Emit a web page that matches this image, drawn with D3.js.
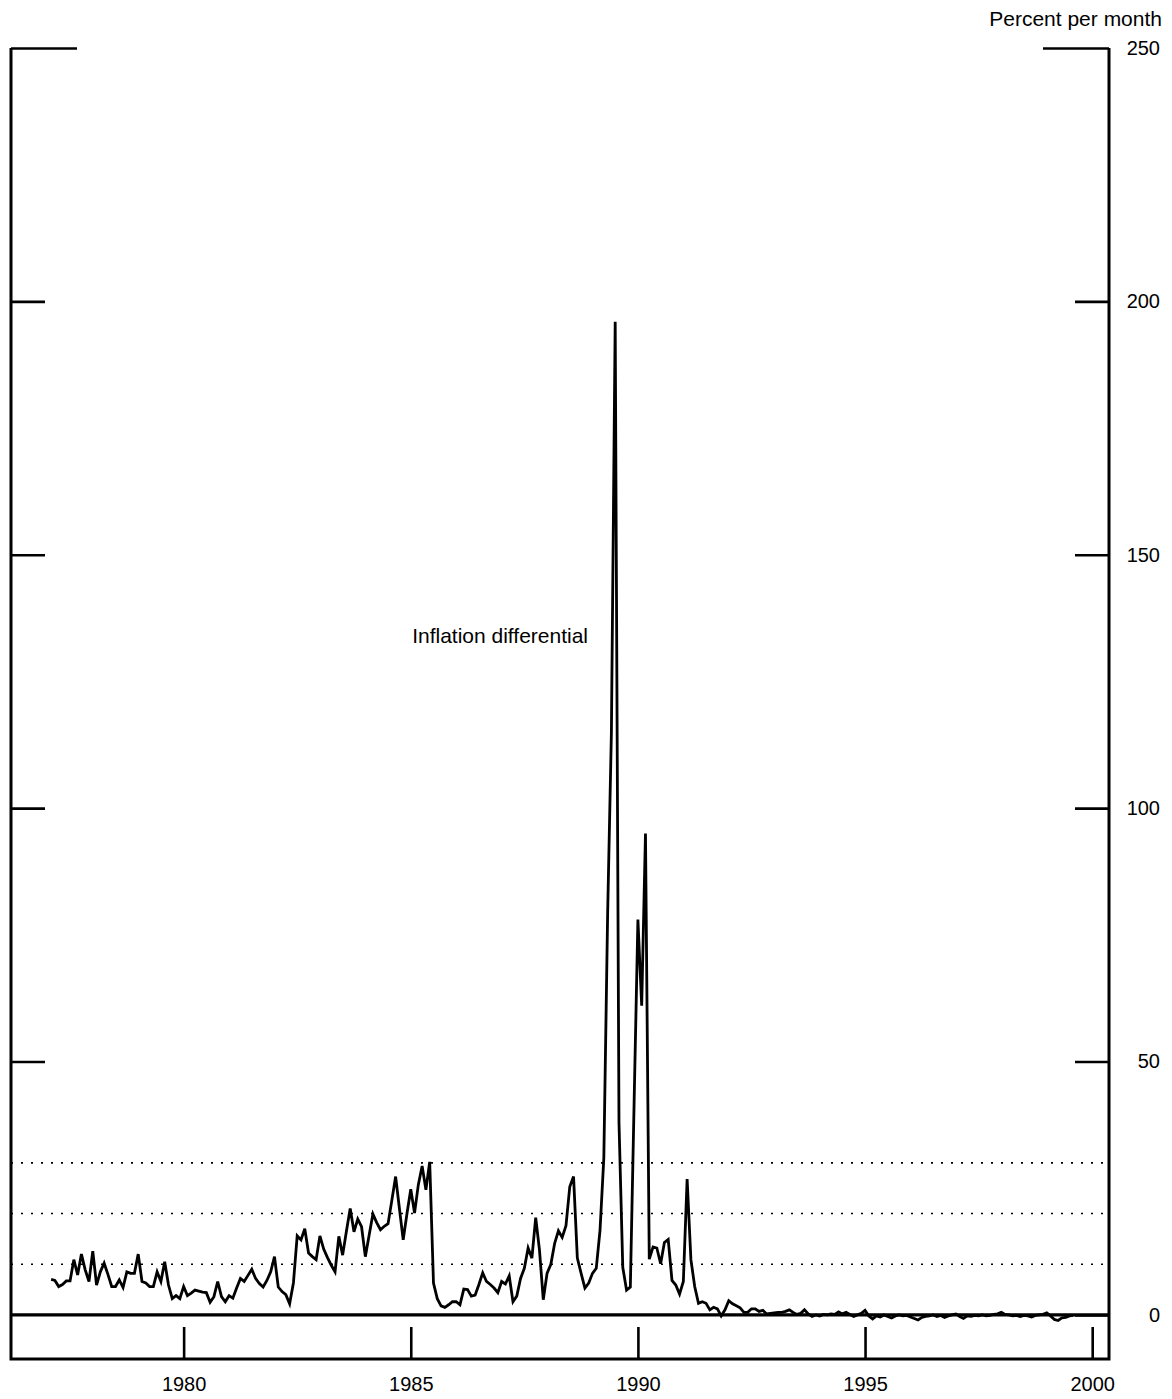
<!DOCTYPE html>
<html>
<head>
<meta charset="utf-8">
<script src="https://cdn.jsdelivr.net/npm/d3@7"></script>
<style>
    body { margin: 0; background: #fff; }
    svg text { font-family: "Liberation Sans", Arial, sans-serif; fill: #000; }
</style>
</head>
<body>
<div id="chart-container"></div>
<script>
// monthly inflation differential, percent per month (series starts Feb 1977)
const START_YEAR = 1977;
const START_MONTH = 1; // 0-based, Feb

const diff1977 = [7.0, 6.8, 5.6, 6.0, 6.7, 6.7, 10.9, 7.9, 12.0, 8.9, 6.6];
const diff1978 = [12.6, 5.9, 8.5, 10.2, 8.0, 5.6, 5.6, 6.9, 5.4, 8.5, 8.2, 8.2];
const diff1979 = [12.0, 6.6, 6.3, 5.6, 5.6, 8.5, 6.6, 10.5, 5.9, 3.2, 3.8, 3.2];
const diff1980 = [5.6, 3.8, 4.3, 4.9, 4.7, 4.5, 4.4, 2.5, 3.6, 6.6, 3.6, 2.6];
const diff1981 = [3.8, 3.3, 5.3, 7.2, 6.6, 7.8, 9.0, 7.2, 6.2, 5.5, 6.8, 8.5];
const diff1982 = [11.5, 5.5, 4.6, 4.0, 2.2, 6.3, 15.6, 14.8, 17.0, 12.2, 11.5, 10.9];
const diff1983 = [15.6, 13.0, 11.3, 9.8, 8.5, 15.5, 11.8, 16.5, 21.0, 16.4, 18.9, 17.4];
const diff1984 = [11.5, 15.7, 19.9, 18.2, 16.8, 17.5, 18.0, 22.6, 27.3, 21.0, 14.8, 20.0];
const diff1985 = [24.8, 20.1, 25.7, 29.4, 24.7, 30.2, 6.3, 3.2, 1.8, 1.5, 2.0, 2.6];
const diff1986 = [2.6, 2.0, 5.1, 5.0, 3.7, 3.9, 6.0, 8.3, 6.6, 6.0, 5.3, 4.4];
const diff1987 = [6.6, 6.1, 7.7, 2.6, 3.7, 7.2, 9.2, 13.2, 11.2, 19.2, 12.8, 3.0];
const diff1988 = [8.2, 10.0, 14.1, 16.6, 15.3, 17.6, 25.3, 27.3, 11.2, 8.2, 5.3, 6.3];
const diff1989 = [8.2, 9.2, 16.8, 31, 79, 115, 196, 38, 9.4, 4.9, 5.5, 42];
const diff1990 = [78, 61, 95, 11.0, 13.4, 13.2, 10.1, 14.3, 14.9, 6.8, 5.9, 4.1];
const diff1991 = [6.6, 26.8, 10.9, 5.6, 2.3, 2.6, 2.3, 1.0, 1.5, 1.2, -0.2, 1.0];
const diff1992 = [2.8, 2.2, 1.8, 1.4, 0.5, 0.5, 1.2, 1.2, 0.7, 0.9, 0.2, 0.3];
const diff1993 = [0.4, 0.5, 0.5, 0.7, 1.0, 0.5, 0.1, 0.3, 1.0, 0.2, -0.3, 0.0];
const diff1994 = [-0.2, 0.1, 0.0, 0.2, 0.1, 0.6, 0.2, 0.5, 0.1, -0.3, 0.0, 0.3];
const diff1995 = [0.9, -0.2, -0.8, -0.2, -0.4, 0.0, -0.3, -0.6, -0.2, 0.0, -0.2, -0.1];
const diff1996 = [-0.4, -0.7, -1.0, -0.5, -0.3, -0.2, 0.0, -0.3, -0.1, -0.5, -0.2, 0.0];
const diff1997 = [0.2, -0.3, -0.7, -0.2, -0.3, -0.1, -0.2, 0.0, -0.2, -0.1, 0.1, 0.2];
const diff1998 = [0.5, 0.1, 0.0, -0.2, -0.1, -0.3, -0.1, -0.2, -0.4, -0.1, 0.0, 0.1];
const diff1999 = [0.4, -0.2, -0.9, -1.1, -0.6, -0.5, -0.2, -0.1];

const inflationDiff = [].concat(
    diff1977, diff1978, diff1979, diff1980, diff1981, diff1982, diff1983, diff1984,
    diff1985, diff1986, diff1987, diff1988, diff1989, diff1990, diff1991, diff1992,
    diff1993, diff1994, diff1995, diff1996, diff1997, diff1998, diff1999
);

// axis ticks and reference lines
const yTicks = [0, 50, 100, 150, 200, 250];
const xTicks = [1980, 1985, 1990, 1995, 2000];
const guideLines = [10, 20, 30];
const unitLabel = "Percent per month";
const seriesLabel = "Inflation differential";


function drawChart() {
    const width = 1172;
    const height = 1399;

    // plot frame
    const frame = { left: 11, right: 1109, top: 48, bottom: 1359 };

    const svg = d3.select("#chart-container")
        .append("svg")
        .attr("width", width)
        .attr("height", height);

    // decimal year scale
    const x = d3.scaleLinear()
        .domain([1976.2, 2000.37])
        .range([frame.left, frame.right]);

    // value scale, zero sits above the bottom frame
    const y = d3.scaleLinear()
        .domain([-8.7, 250])
        .range([frame.bottom, frame.top]);

    // dotted reference lines
    svg.append("g")
        .selectAll("line")
        .data(guideLines)
        .enter()
        .append("line")
        .attr("x1", frame.left)
        .attr("x2", frame.right)
        .attr("y1", d => y(d))
        .attr("y2", d => y(d))
        .attr("stroke", "#000")
        .attr("stroke-width", 1.6)
        .attr("stroke-dasharray", "2,8");

    // zero line
    svg.append("line")
        .attr("x1", frame.left)
        .attr("x2", frame.right)
        .attr("y1", y(0))
        .attr("y2", y(0))
        .attr("stroke", "#000")
        .attr("stroke-width", 3.2);

    // left ticks, no labels
    const leftAxis = svg.append("g")
        .attr("transform", `translate(${frame.left},0)`)
        .call(d3.axisLeft(y).tickValues(yTicks.filter(d => d > 0)).tickSize(-34).tickFormat(""));
    leftAxis.select(".domain").remove();
    leftAxis.selectAll("line").attr("stroke-width", 2.6);
    leftAxis.selectAll(".tick").filter(d => d === 250).select("line").attr("x2", 66);

    // right ticks with labels outside
    const rightAxis = svg.append("g")
        .attr("transform", `translate(${frame.right},0)`)
        .call(d3.axisRight(y).tickValues(yTicks).tickSize(-34).tickPadding(0).tickFormat(d3.format("d")));
    rightAxis.attr("font-size", 20).attr("font-family", null);
    rightAxis.select(".domain").remove();
    rightAxis.selectAll("line").attr("stroke-width", 2.6);
    rightAxis.selectAll(".tick").filter(d => d === 250).select("line").attr("x2", -66);
    rightAxis.selectAll("text")
        .attr("text-anchor", "end")
        .attr("x", 51);

    // bottom ticks pointing up from the frame
    const bottomAxis = svg.append("g")
        .attr("transform", `translate(0,${frame.bottom})`)
        .call(d3.axisBottom(x).tickValues(xTicks).tickSize(-32).tickFormat(d3.format("d")));
    bottomAxis.attr("font-size", 20).attr("font-family", null);
    bottomAxis.select(".domain").remove();
    bottomAxis.selectAll("line").attr("stroke-width", 2.6);
    bottomAxis.selectAll("text").attr("y", 18);

    // frame: left, bottom, right
    svg.append("path")
        .attr("d", `M${frame.left},${frame.top}V${frame.bottom}H${frame.right}V${frame.top}`)
        .attr("fill", "none")
        .attr("stroke", "#000")
        .attr("stroke-width", 3);

    // monthly series
    const line = d3.line()
        .x((d, i) => x(START_YEAR + (START_MONTH + i) / 12))
        .y(d => y(d));

    svg.append("path")
        .datum(inflationDiff)
        .attr("fill", "none")
        .attr("stroke", "#000")
        .attr("stroke-width", 2.8)
        .attr("d", line);

    // unit label
    svg.append("text")
        .attr("x", 1162)
        .attr("y", 26)
        .attr("text-anchor", "end")
        .attr("font-size", 21)
        .text(unitLabel);

    // series label
    svg.append("text")
        .attr("x", x(1985.03))
        .attr("y", y(132.5))
        .attr("font-size", 21)
        .text(seriesLabel);
}

window.onload = drawChart;
</script>
</body>
</html>
